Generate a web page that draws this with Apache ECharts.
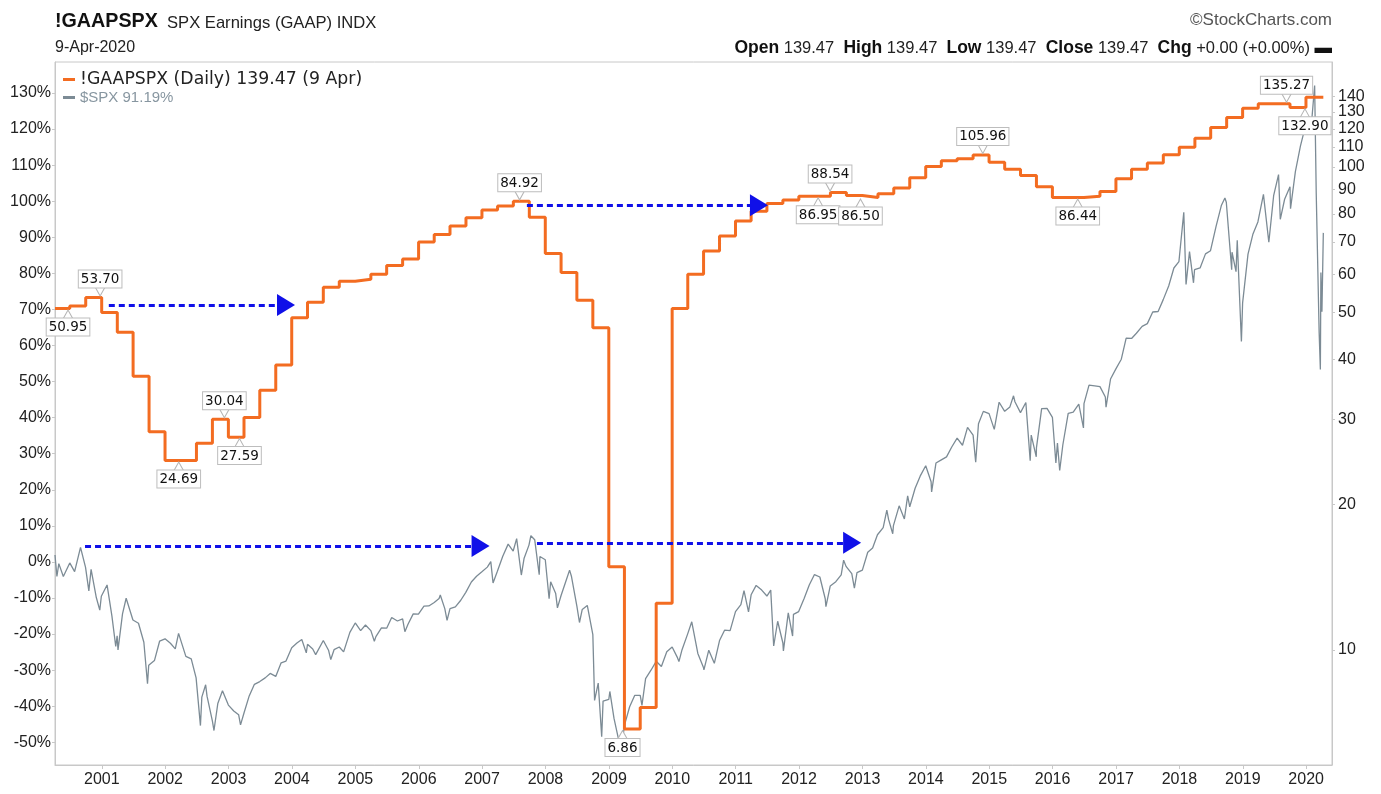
<!DOCTYPE html>
<html>
<head>
<meta charset="utf-8">
<script src="https://cdn.jsdelivr.net/npm/echarts/dist/echarts.min.js"></script>
<style>
html,body{margin:0;padding:0;background:#fff;}
#chart{width:1381px;height:794px;}
</style>
</head>
<body>
<div id="chart"></div>
<script>
// ---------- DATA ----------
// S&P 500 GAAP earnings (trailing 12M), value in force from each date (step series)
const epsDates = [
'2000-04-06','2000-06-30','2000-09-30','2000-12-31',
'2001-03-31','2001-06-30','2001-09-30','2001-12-31',
'2002-03-31','2002-06-30','2002-09-30','2002-12-31',
'2003-03-31','2003-06-30','2003-09-30','2003-12-31',
'2004-03-31','2004-06-30','2004-09-30','2004-12-31',
'2005-03-31','2005-06-30','2005-09-30','2005-12-31',
'2006-03-31','2006-06-30','2006-09-30','2006-12-31',
'2007-03-31','2007-06-30','2007-09-30','2007-12-31',
'2008-03-31','2008-06-30','2008-09-30','2008-12-31',
'2009-03-31','2009-06-30','2009-09-30','2009-12-31',
'2010-03-31','2010-06-30','2010-09-30','2010-12-31',
'2011-03-31','2011-06-30','2011-09-30','2011-12-31',
'2012-03-31','2012-06-30','2012-09-30','2012-12-31',
'2013-03-31','2013-06-30','2013-09-30','2013-12-31',
'2014-03-31','2014-06-30','2014-09-30','2014-12-31',
'2015-03-31','2015-06-30','2015-09-30','2015-12-31',
'2016-03-31','2016-06-30','2016-09-30','2016-12-31',
'2017-03-31','2017-06-30','2017-09-30','2017-12-31',
'2018-03-31','2018-06-30','2018-09-30','2018-12-31',
'2019-03-31','2019-06-30','2019-09-30','2019-12-31',
'2020-04-09'];
const epsValues = [
50.95,51.55,53.70,50.00,
45.5,36.9,28.3,24.69,
24.69,26.8,30.04,27.59,
30.3,34.5,38.9,48.74,
52.5,56.4,58.0,58.55,
60.0,62.5,64.5,69.93,
72.5,75.5,78.5,81.51,
83.0,84.92,78.7,66.18,
60.5,53.0,46.5,14.88,
6.86,7.6,12.5,50.97,
60.0,67.0,72.0,77.35,
81.0,84.0,85.5,86.95,
86.95,88.54,87.3,86.50,
88.0,90.5,95.0,100.20,
103.0,104.0,105.96,102.31,
99.0,96.0,91.0,86.53,
86.44,87.0,89.0,94.55,
99.0,102.0,106.0,109.88,
114.7,120.8,126.7,132.39,
135.27,135.27,132.90,139.47,
139.47];

// $SPX closing levels, shown as % change from the chart's start level
const spxBase = 1459;
const spxDates = [
'2000-04-06','2000-04-17','2000-04-28','2000-05-24','2000-06-30','2000-07-28','2000-08-31','2000-09-29','2000-10-18','2000-10-31','2000-11-30','2000-12-20','2000-12-29',
'2001-01-31','2001-02-28','2001-03-22','2001-03-30','2001-04-04','2001-04-30','2001-05-21','2001-06-29','2001-07-31','2001-08-31','2001-09-21','2001-09-28','2001-10-31','2001-11-30','2001-12-31',
'2002-01-31','2002-02-28','2002-03-19','2002-04-30','2002-05-31','2002-06-28','2002-07-23','2002-07-31','2002-08-22','2002-08-30','2002-09-30','2002-10-09','2002-10-31','2002-11-27','2002-12-31',
'2003-01-31','2003-02-28','2003-03-11','2003-03-31','2003-04-30','2003-05-30','2003-06-30','2003-07-31','2003-08-29','2003-09-30','2003-10-31','2003-11-28','2003-12-31',
'2004-01-30','2004-02-27','2004-03-24','2004-03-31','2004-04-30','2004-05-17','2004-06-30','2004-07-30','2004-08-12','2004-08-31','2004-09-30','2004-10-25','2004-11-30','2004-12-31',
'2005-01-31','2005-02-28','2005-03-31','2005-04-20','2005-04-29','2005-05-31','2005-06-30','2005-07-29','2005-08-31','2005-09-30','2005-10-13','2005-10-31','2005-11-30','2005-12-30',
'2006-01-31','2006-02-28','2006-03-31','2006-04-28','2006-05-05','2006-05-31','2006-06-13','2006-06-30','2006-07-31','2006-08-31','2006-09-29','2006-10-31','2006-11-30','2006-12-29',
'2007-01-31','2007-02-20','2007-03-05','2007-03-30','2007-04-30','2007-05-31','2007-06-29','2007-07-19','2007-08-15','2007-08-31','2007-09-28','2007-10-09','2007-10-31','2007-11-26','2007-11-30','2007-12-31',
'2008-01-22','2008-01-31','2008-02-29','2008-03-10','2008-03-31','2008-04-30','2008-05-19','2008-05-30','2008-06-30','2008-07-15','2008-07-31','2008-08-29','2008-09-30','2008-10-10','2008-10-31','2008-11-20','2008-11-28','2008-12-31',
'2009-01-06','2009-01-30','2009-02-27','2009-03-09','2009-03-31','2009-04-30','2009-05-29','2009-06-30','2009-07-10','2009-07-31','2009-08-31','2009-09-30','2009-10-30','2009-11-30','2009-12-31',
'2010-01-29','2010-02-08','2010-02-26','2010-03-31','2010-04-23','2010-05-28','2010-06-30','2010-07-02','2010-07-30','2010-08-31','2010-09-30','2010-10-29','2010-11-30','2010-12-31',
'2011-01-31','2011-02-18','2011-03-16','2011-03-31','2011-04-29','2011-05-31','2011-06-30','2011-07-22','2011-08-08','2011-08-31','2011-09-30','2011-10-03','2011-10-31','2011-11-25','2011-11-30','2011-12-30',
'2012-01-31','2012-02-29','2012-03-30','2012-04-30','2012-05-31','2012-06-04','2012-06-29','2012-07-31','2012-08-31','2012-09-14','2012-09-28','2012-10-31','2012-11-15','2012-11-30','2012-12-31',
'2013-01-31','2013-02-28','2013-03-28','2013-04-30','2013-05-21','2013-05-31','2013-06-24','2013-06-28','2013-07-31','2013-08-30','2013-09-18','2013-09-30','2013-10-31','2013-11-29','2013-12-31',
'2014-01-31','2014-02-03','2014-02-28','2014-03-31','2014-04-30','2014-05-30','2014-06-30','2014-07-31','2014-08-29','2014-09-30','2014-10-15','2014-10-31','2014-11-28','2014-12-31',
'2015-01-30','2015-02-27','2015-03-31','2015-04-30','2015-05-21','2015-05-29','2015-06-30','2015-07-31','2015-08-25','2015-08-31','2015-09-29','2015-09-30','2015-10-30','2015-11-30','2015-12-31',
'2016-01-20','2016-01-29','2016-02-11','2016-02-29','2016-03-31','2016-04-29','2016-05-31','2016-06-27','2016-06-30','2016-07-29','2016-08-31','2016-09-30','2016-10-31','2016-11-04','2016-11-30','2016-12-30',
'2017-01-31','2017-02-28','2017-03-31','2017-04-28','2017-05-31','2017-06-30','2017-07-31','2017-08-31','2017-09-29','2017-10-31','2017-11-30','2017-12-29',
'2018-01-26','2018-02-08','2018-02-28','2018-03-23','2018-03-29','2018-04-30','2018-05-31','2018-06-29','2018-07-31','2018-08-31','2018-09-20','2018-09-28','2018-10-29','2018-10-31','2018-11-23','2018-11-30','2018-12-24','2018-12-31',
'2019-01-31','2019-02-28','2019-03-29','2019-04-30','2019-05-31','2019-06-03','2019-06-28','2019-07-26','2019-08-05','2019-08-30','2019-09-30','2019-10-03','2019-10-31','2019-11-29','2019-12-31',
'2020-01-31','2020-02-19','2020-02-28','2020-03-16','2020-03-23','2020-03-26','2020-04-01','2020-04-09'];
const spxLevels = [
1487,1400,1452,1400,1455,1420,1518,1437,1342,1429,1315,1264,1320,
1366,1240,1117,1160,1103,1249,1312,1224,1211,1134,966,1041,1060,1139,1148,
1130,1107,1170,1077,1067,990,797,912,962,916,815,777,886,938,880,
856,841,800,848,917,964,975,990,1008,996,1051,1058,1112,
1131,1145,1091,1126,1107,1084,1141,1102,1064,1104,1115,1095,1174,1212,
1181,1204,1181,1138,1157,1192,1191,1234,1220,1229,1177,1207,1249,1248,
1280,1281,1295,1311,1325,1270,1223,1270,1277,1304,1336,1378,1401,1418,
1438,1460,1374,1421,1482,1531,1503,1553,1406,1474,1527,1565,1549,1407,1481,1468,
1310,1379,1331,1273,1323,1386,1426,1400,1280,1214,1267,1283,1165,899,969,752,896,903,
935,826,735,677,798,873,919,919,879,987,1021,1057,1036,1096,1115,
1074,1056,1104,1169,1217,1089,1031,1022,1102,1049,1141,1183,1181,1258,
1286,1343,1257,1326,1364,1345,1321,1345,1119,1219,1131,1099,1253,1159,1247,1258,
1312,1366,1408,1398,1310,1278,1362,1379,1407,1466,1441,1412,1353,1416,1426,
1498,1515,1569,1598,1669,1631,1573,1606,1686,1633,1726,1682,1757,1806,1848,
1783,1742,1859,1872,1884,1924,1960,1931,2003,1972,1862,2018,2068,2059,
1995,2105,2068,2086,2131,2107,2063,2104,1868,1972,1884,1920,2079,2080,2044,
1859,1940,1829,1932,2060,2065,2097,2001,2099,2174,2171,2168,2126,2085,2199,2239,
2279,2364,2363,2384,2412,2423,2470,2472,2519,2575,2648,2674,
2873,2581,2714,2588,2641,2648,2705,2718,2816,2902,2931,2914,2641,2712,2633,2760,2351,2507,
2704,2784,2834,2946,2752,2744,2942,3026,2845,2926,2977,2888,3038,3141,3231,
3226,3386,2954,2386,2237,2630,2471,2790];

// Axis tick labels
const yearLabels = ['2001','2002','2003','2004','2005','2006','2007','2008','2009','2010','2011','2012','2013','2014','2015','2016','2017','2018','2019','2020'];
const pctTicks = [-50,-40,-30,-20,-10,0,10,20,30,40,50,60,70,80,90,100,110,120,130];
const epsTicks = [10,20,30,40,50,60,70,80,90,100,110,120,130,140];

// Value callouts on the earnings line
const annDates  = ['2000-06-20','2000-12-22','2002-03-20','2002-12-08','2003-03-05','2007-08-05','2009-03-20','2012-04-20','2012-06-28','2012-12-20','2014-11-25','2016-05-25','2019-09-10','2019-12-25'];
const annValues = [50.95,53.70,24.69,30.04,27.59,84.92,6.86,86.95,88.54,86.50,105.96,86.44,135.27,132.90];
const annSides  = ['bottom','top','bottom','top','bottom','top','bottom','bottom','top','bottom','top','bottom','top','bottom'];

// Blue dashed "recovery" arrows: earnings arrows (right scale) and SPX arrows (% scale)
const epsArrowStart = ['2001-02-10','2007-09-16'];
const epsArrowEnd   = ['2003-11-28','2011-05-15'];
const epsArrowLevel = [51.8,83.3];
const spxArrowStart = ['2000-09-26','2007-11-13'];
const spxArrowEnd   = ['2006-12-23','2012-11-02'];
const spxArrowLevel = [4.4,5.3];

// ---------- CHART ----------
const t = s => new Date(s + 'T00:00:00Z').getTime();
const yearTs = yearLabels.map(y => t(y + '-01-01'));
const epsName = '!GAAPSPX (Daily) 139.47 (9 Apr)';
const spxName = '$SPX 91.19%';
const ORANGE = '#f36c21';
const GREY = '#7c8b95';
const BLUE = '#1010e8';
const AXIS = '#c8c8c8';
const TXT = '#222';

const epsData = epsDates.map((d, i) => [t(d), epsValues[i]]);
const spxData = spxDates.map((d, i) => [t(d), (spxLevels[i] / spxBase - 1) * 100]);

// right-axis label slots: the real ticks plus one blank slot above the plot's top tick,
// so ECharts' first/last-label overlap rule never drops the 130 or 140 label
const epsLabelSlots = epsTicks.concat([160]);

const calloutLabel = {
  show: true, distance: -1, color: '#111', fontFamily: 'DejaVu Sans', fontSize: 13.5,
  backgroundColor: '#fff', borderColor: '#bdbdbd', borderWidth: 1, padding: [2, 2, 1, 2]
};
const callouts = annDates.map((d, i) => {
  const top = annSides[i] === 'top';
  return {
    coord: [t(d), annValues[i]],
    symbol: top ? 'path://M0,0L5,9L10,0' : 'path://M0,9L5,0L10,9',
    symbolSize: [10, 9],
    symbolOffset: [0, top ? -6 : 6],
    itemStyle: { color: '#fff', borderColor: '#b5b5b5', borderWidth: 1 },
    label: Object.assign({}, calloutLabel, { position: annSides[i], formatter: annValues[i].toFixed(2) })
  };
});

const arrowStyle = { color: BLUE, width: 3, type: [6, 4] };
const epsArrows = epsArrowStart.map((s, i) => [
  { coord: [t(s), epsArrowLevel[i]] }, { coord: [t(epsArrowEnd[i]), epsArrowLevel[i]] }
]);
const spxArrows = spxArrowStart.map((s, i) => [
  { coord: [t(s), spxArrowLevel[i]] }, { coord: [t(spxArrowEnd[i]), spxArrowLevel[i]] }
]);

const chart = echarts.init(document.getElementById('chart'), null, { renderer: 'canvas' });
const option = {
  animation: false,
  backgroundColor: '#fff',
  textStyle: { fontFamily: 'Liberation Sans' },
  grid: { left: 55, right: 49, top: 62, bottom: 29, show: true, borderColor: AXIS, borderWidth: 1, backgroundColor: 'transparent' },
  legend: {
    orient: 'vertical', left: 58, top: 66, itemGap: 2, itemWidth: 12, itemHeight: 3,
    icon: 'rect', selectedMode: false,
    data: [
      { name: epsName, textStyle: { fontFamily: 'DejaVu Sans', fontSize: 17.3, color: TXT } },
      { name: spxName, textStyle: { fontFamily: 'Liberation Sans', fontSize: 15, color: '#8796a0' } }
    ]
  },
  xAxis: {
    type: 'value', min: t('2000-04-06'), max: t('2020-05-29'),
    axisLine: { show: true, onZero: false, lineStyle: { color: AXIS } },
    axisTick: { show: true, customValues: yearTs, length: 4, lineStyle: { color: AXIS } },
    axisLabel: { customValues: yearTs, formatter: v => String(new Date(v).getUTCFullYear()), color: TXT, fontSize: 16, fontFamily: 'Liberation Sans', margin: 7, showMinLabel: true, showMaxLabel: true },
    splitLine: { show: false }
  },
  yAxis: [
    {
      type: 'value', position: 'left', min: -56.3, max: 138.6,
      axisLine: { show: true, onZero: false, lineStyle: { color: AXIS } },
      axisTick: { show: true, customValues: pctTicks, length: 3, lineStyle: { color: AXIS } },
      axisLabel: { customValues: pctTicks, formatter: v => v + '%', color: TXT, fontSize: 16, fontFamily: 'Liberation Sans', margin: 4, showMinLabel: true, showMaxLabel: true },
      splitLine: { show: false }
    },
    {
      type: 'log', position: 'right', min: 5.78, max: 165,
      axisLine: { show: true, onZero: false, lineStyle: { color: AXIS } },
      axisTick: { show: true, customValues: epsTicks, length: 3, lineStyle: { color: AXIS } },
      axisLabel: {
        customValues: epsLabelSlots,
        formatter: v => { const r = Math.round(v); return epsTicks.indexOf(r) >= 0 ? String(r) : ''; },
        color: TXT, fontSize: 16, fontFamily: 'Liberation Sans', margin: 6, hideOverlap: false
      },
      splitLine: { show: false }
    }
  ],
  series: [
    {
      name: spxName, type: 'line', yAxisIndex: 0, data: spxData, showSymbol: false, symbol: 'none',
      color: GREY, lineStyle: { color: GREY, width: 1.3 }, z: 2,
      markLine: { silent: true, symbol: ['none', 'triangle'], symbolSize: [22, 18], lineStyle: arrowStyle, label: { show: false }, data: spxArrows }
    },
    {
      name: epsName, type: 'line', yAxisIndex: 1, data: epsData, step: 'end', showSymbol: false, symbol: 'none',
      color: ORANGE, lineStyle: { color: ORANGE, width: 3 }, z: 3,
      markLine: { silent: true, symbol: ['none', 'triangle'], symbolSize: [22, 18], lineStyle: arrowStyle, label: { show: false }, data: epsArrows },
      markPoint: { silent: true, data: callouts }
    }
  ],
  graphic: [
    { type: 'text', left: 55, top: 12, style: { text: '!GAAPSPX', fontFamily: 'Liberation Sans', fontWeight: 'bold', fontSize: 19.7, fill: '#111' } },
    { type: 'text', left: 167, top: 15, style: { text: 'SPX Earnings (GAAP) INDX', fontFamily: 'Liberation Sans', fontSize: 16.6, fill: TXT } },
    { type: 'text', left: 55, top: 40, style: { text: '9-Apr-2020', fontFamily: 'Liberation Sans', fontSize: 16, fill: TXT } },
    { type: 'text', right: 49, top: 12, style: { text: '\u00A9StockCharts.com', fontFamily: 'Liberation Sans', fontSize: 17, fill: '#555' } },
    { type: 'text', right: 49, top: 39, style: {
        text: '{b|Open} 139.47  {b|High} 139.47  {b|Low} 139.47  {b|Close} 139.47  {b|Chg} +0.00 (+0.00%) {b|\u25AC}',
        fontFamily: 'Liberation Sans', fontSize: 16.5, fill: TXT,
        rich: { b: { fontFamily: 'Liberation Sans', fontWeight: 'bold', fontSize: 17.5, fill: '#111' } }
    } }
  ]
};
chart.setOption(option);
</script>
</body>
</html>
